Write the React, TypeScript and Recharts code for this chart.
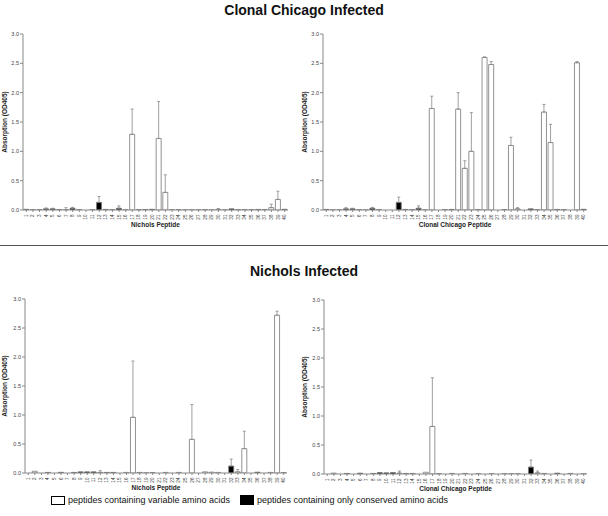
import React from 'react';
import { BarChart, Bar, XAxis, YAxis, ErrorBar, Cell } from 'recharts';

const PEPTIDES = ['1','2','3','4','5','6','7','8','9','10','11','12','13','14','15','16','17','18','19','20','21','22','23','24','25','26','27','28','29','30','31','32','33','34','35','36','37','38','39','40'];
const Y_TICKS = [0, 0.5, 1.0, 1.5, 2.0, 2.5, 3.0];

// Clonal Chicago infected, Nichols peptides
const CC_NICHOLS_VALUES = [0.012,0.005,0.005,0.02,0.02,0.008,0.005,0.03,0.005,0,0.005,0.13,0.01,0.005,0.03,0.005,1.29,0.005,0.008,0.012,1.22,0.30,0.005,0.005,0.003,0.003,0.003,0.005,0.003,0.01,0.003,0.02,0.005,0.005,0.005,0.01,0.005,0.04,0.18,0.012];
const CC_NICHOLS_ERR = [null,null,null,0.015,0.01,null,0.035,0.015,null,null,null,0.10,null,null,0.04,null,0.43,null,null,null,0.63,0.30,null,null,null,null,null,null,null,0.015,null,null,null,null,null,null,null,0.06,0.14,null];
const CC_NICHOLS_TYPES = ['c','c','c','c','c','c','v','c','c','v','c','c','c','c','c','v','v','c','c','c','v','v','v','c','v','v','v','c','v','v','v','c','c','c','c','c','c','v','v','c'];

// Clonal Chicago infected, Clonal Chicago peptides
const CC_CC_VALUES = [0.01,0.005,0.003,0.02,0.02,0.005,0.003,0.03,0.005,0,0,0.13,0.01,0.005,0.03,0.003,1.73,0,0.005,0.01,1.72,0.71,1.0,0.005,2.60,2.48,0,0.005,1.10,0.02,0,0.02,0.005,1.67,1.15,0.01,0.005,0,2.51,0.012];
const CC_CC_ERR = [null,null,null,0.02,0.01,null,null,0.015,null,null,null,0.09,null,null,0.04,null,0.21,null,null,null,0.28,0.13,0.66,null,0.01,0.05,null,null,0.14,0.02,null,null,null,0.13,0.31,null,null,null,0.02,null];
const CC_CC_TYPES = ['c','v','v','c','c','c','v','c','c','v','v','c','c','c','c','v','v','v','c','c','v','v','v','c','v','v','v','c','v','v','v','c','c','v','v','c','c','v','v','c'];

// Nichols infected, Nichols peptides
const N_NICHOLS_VALUES = [0,0.03,0,0.01,0,0.012,0,0.01,0.02,0.02,0.02,0.01,0.01,0.01,0,0.01,0.96,0.01,0.003,0.005,0,0.01,0,0.01,0,0.58,0,0.02,0.015,0.01,0,0.12,0.02,0.42,0,0.015,0,0.01,2.72,0.005];
const N_NICHOLS_ERR = [null,null,null,null,null,null,null,null,null,null,null,0.03,null,null,null,null,0.97,null,null,null,null,null,null,null,null,0.60,null,null,null,null,null,0.12,0.04,0.30,null,null,null,null,0.07,null];
const N_NICHOLS_TYPES = ['v','v','v','c','v','c','v','c','c','c','c','v','c','c','v','v','v','v','v','c','v','v','v','v','v','v','v','v','v','v','v','c','v','v','v','c','v','v','v','c'];

// Nichols infected, Clonal Chicago peptides
const N_CC_VALUES = [0,0.015,0,0.01,0,0.015,0,0.01,0.025,0.02,0.025,0.015,0.01,0.01,0,0.03,0.82,0.005,0,0.01,0,0.01,0,0.005,0,0.005,0,0.005,0.005,0.005,0,0.12,0.02,0.01,0,0.015,0,0.01,0,0.005];
const N_CC_ERR = [null,null,null,null,null,null,null,null,null,null,null,0.035,null,null,null,null,0.84,null,null,null,null,null,null,null,null,null,null,null,null,null,null,0.12,0.03,null,null,null,null,null,null,null];
const N_CC_TYPES = ['v','v','v','c','v','c','v','c','c','c','c','v','c','c','v','v','v','c','v','v','v','v','v','v','v','v','v','v','v','v','v','c','v','v','v','c','v','v','v','v'];

const FONT = '"Liberation Sans", Arial, sans-serif';

function build(values: number[], errs: (number | null)[], types: string[]) {
  return PEPTIDES.map((p, i) => ({
    peptide: p,
    value: values[i],
    err: errs[i] == null ? null : [0, errs[i]],
    type: types[i],
  }));
}

const XTick = (props: any) => {
  const { x, y, payload } = props;
  const ty = y + 0.5;
  return (
    <text
      x={x}
      y={ty}
      transform={`rotate(-90, ${x}, ${ty})`}
      textAnchor="end"
      dominantBaseline="central"
      fontSize={4.6}
      fontFamily={FONT}
      fill="#333"
    >
      {payload.value}
    </text>
  );
};

type PanelProps = {
  left: number;
  top: number;
  yWidth: number;
  margin: { top: number; right: number; bottom: number; left: number };
  data: any[];
  xLabel: string;
};

function Panel({ left, top, yWidth, margin, data, xLabel }: PanelProps) {
  return (
    <div style={{ position: 'absolute', left, top, width: 300, height: 200 }}>
      <BarChart width={300} height={200} data={data} margin={margin} barCategoryGap="10%">
        <XAxis
          dataKey="peptide"
          interval={0}
          height={16}
          tick={<XTick />}
          tickSize={2}
          stroke="#888"
          axisLine={{ stroke: '#888' }}
          tickLine={{ stroke: '#888' }}
          label={{
            value: xLabel,
            position: 'insideBottom',
            offset: -1,
            style: { fontSize: 6.5, fontWeight: 'bold', fill: '#222', fontFamily: FONT },
          }}
        />
        <YAxis
          width={yWidth}
          domain={[0, 3]}
          ticks={Y_TICKS}
          tickFormatter={(v: number) => v.toFixed(1)}
          tickSize={3}
          tickMargin={1}
          allowDataOverflow
          stroke="#888"
          tick={{ fontSize: 5.5, fill: '#444', fontFamily: FONT }}
          label={{
            value: 'Absorption (OD405)',
            angle: -90,
            position: 'insideLeft',
            offset: 5,
            style: { textAnchor: 'middle', fontSize: 6.5, fontWeight: 'bold', fill: '#222', fontFamily: FONT },
          }}
        />
        <Bar dataKey="value" isAnimationActive={false} stroke="#777" strokeWidth={0.8}>
          {data.map((d, i) => (
            <Cell key={i} fill={d.type === 'c' ? '#000' : '#fff'} />
          ))}
          <ErrorBar dataKey="err" direction="y" width={1.5} stroke="#888" strokeWidth={0.8} isAnimationActive={false} />
        </Bar>
      </BarChart>
    </div>
  );
}

export default function App() {
  return (
    <div style={{ position: 'absolute', left: 0, top: 0, width: 608, height: 516, background: '#fff', fontFamily: FONT }}>
      <div style={{ position: 'absolute', left: 0, top: 1, width: 608, textAlign: 'center', fontSize: 14, fontWeight: 'bold', lineHeight: '18px', color: '#111' }}>
        Clonal Chicago Infected
      </div>
      <Panel left={0} top={30} yWidth={23} margin={{ top: 4, right: 12, bottom: 4, left: 0 }} data={build(CC_NICHOLS_VALUES, CC_NICHOLS_ERR, CC_NICHOLS_TYPES)} xLabel="Nichols Peptide" />
      <Panel left={300} top={30} yWidth={23} margin={{ top: 4, right: 13, bottom: 4, left: 0 }} data={build(CC_CC_VALUES, CC_CC_ERR, CC_CC_TYPES)} xLabel="Clonal Chicago Peptide" />
      <div style={{ position: 'absolute', left: 0, top: 245, width: 608, height: 1, background: '#555' }} />
      <div style={{ position: 'absolute', left: 0, top: 262, width: 608, textAlign: 'center', fontSize: 14, fontWeight: 'bold', lineHeight: '18px', color: '#111' }}>
        Nichols Infected
      </div>
      <Panel left={0} top={295} yWidth={25} margin={{ top: 4, right: 13, bottom: 6, left: 0 }} data={build(N_NICHOLS_VALUES, N_NICHOLS_ERR, N_NICHOLS_TYPES)} xLabel="Nichols Peptide" />
      <Panel left={300} top={296} yWidth={24} margin={{ top: 4, right: 13, bottom: 6, left: 0 }} data={build(N_CC_VALUES, N_CC_ERR, N_CC_TYPES)} xLabel="Clonal Chicago Peptide" />
      <div style={{ position: 'absolute', left: 51, top: 496, width: 12, height: 7, border: '1.5px solid #000', background: '#fff' }} />
      <div style={{ position: 'absolute', left: 68, top: 494, fontSize: 9, lineHeight: '12px', color: '#111', whiteSpace: 'nowrap' }}>
        peptides containing variable amino acids
      </div>
      <div style={{ position: 'absolute', left: 240, top: 495, width: 14, height: 10, background: '#000' }} />
      <div style={{ position: 'absolute', left: 257, top: 494, fontSize: 9, lineHeight: '12px', color: '#111', whiteSpace: 'nowrap' }}>
        peptides containing only conserved amino acids
      </div>
    </div>
  );
}
